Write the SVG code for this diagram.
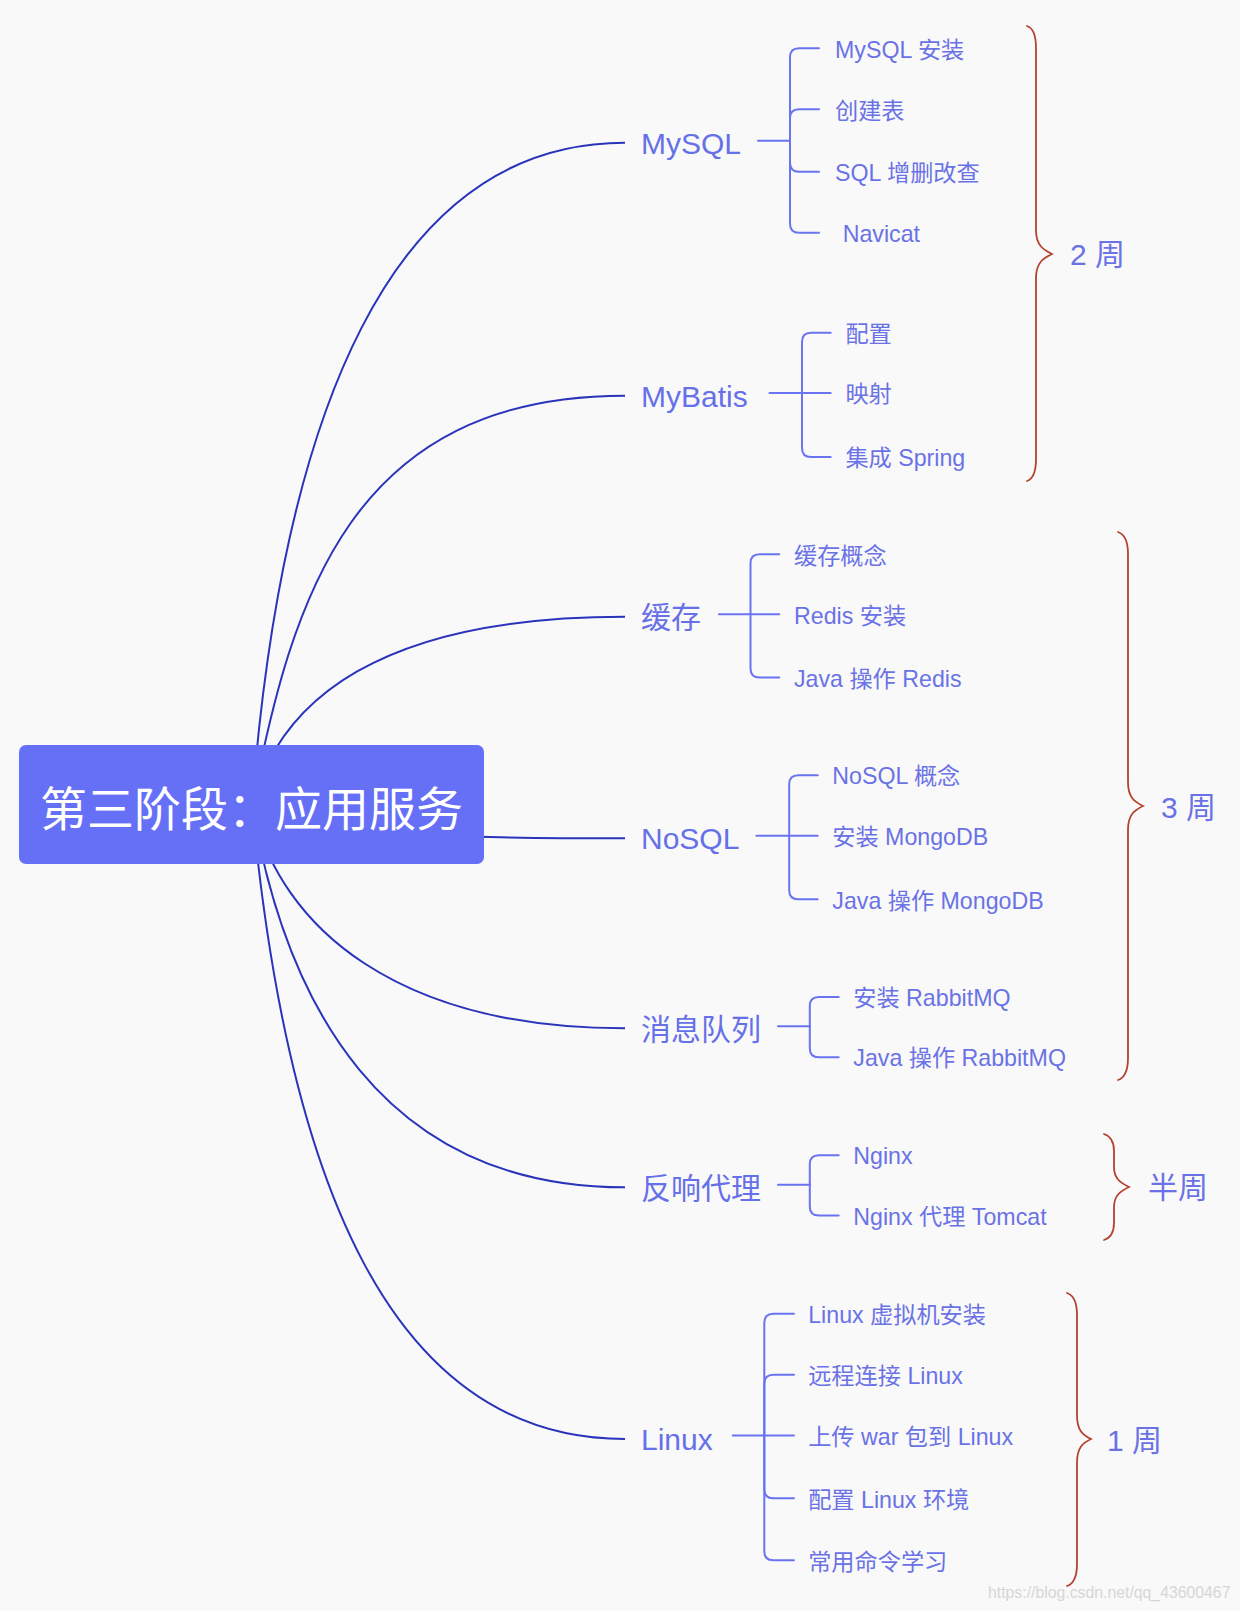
<svg xmlns="http://www.w3.org/2000/svg" width="1240" height="1611" viewBox="0 0 1240 1611">
<style>
.bg{fill:#f9f9f9}
.main{fill:none;stroke:#2a34ba;stroke-width:2}
.br{fill:none;stroke:#6a73f0;stroke-width:2;stroke-linecap:round}
.brace{fill:none;stroke:#b3432f;stroke-width:1.8;stroke-linecap:round}
text{font-family:"Liberation Sans","Noto Sans CJK SC",sans-serif}
.l1{font-size:30px;fill:#6670e8}
.l2{font-size:23.2px;fill:#6a72e6}
.wk{font-size:30px;fill:#6a72e6}
.root{font-size:47px;fill:#ffffff;font-family:"Noto Sans CJK SC",sans-serif}
.wm{font-size:15.8px;fill:#d6d6d6}
</style>
<rect class="bg" x="0" y="0" width="1240" height="1611"/>

<g id="connectors">
  <path class="main" d="M252,805 C282,415 390,142.7 625,142.7"/>
  <path class="main" d="M252,805 C292,600 350,395.7 625,395.7"/>
  <path class="main" d="M252,805 C280,700 380,616.7 625,616.7"/>
  <path class="main" d="M252,805 C300,834 420,838.3 625,838.3"/>
  <path class="main" d="M252,805 C280,930 400,1028.3 625,1028.3"/>
  <path class="main" d="M252,805 C285,1000 380,1187.3 625,1187.3"/>
  <path class="main" d="M252,805 C287,1180 390,1439 625,1439"/>

  <path class="br" d="M758,140.7 H790"/>
  <path class="br" d="M790,140.7 V57.3 Q790,48.3 799,48.3 H819"/>
  <path class="br" d="M790,140.7 V118.3 Q790,109.3 799,109.3 H819"/>
  <path class="br" d="M790,140.7 V162.7 Q790,171.7 799,171.7 H819"/>
  <path class="br" d="M790,140.7 V223.7 Q790,232.7 799,232.7 H819"/>

  <path class="br" d="M769.5,393 H830.7"/>
  <path class="br" d="M802,393 V341.7 Q802,332.7 811,332.7 H830.7"/>
  <path class="br" d="M802,393 V447.9 Q802,456.9 811,456.9 H830.7"/>

  <path class="br" d="M719,614.3 H779.3"/>
  <path class="br" d="M750.5,614.3 V563.3 Q750.5,554.3 759.5,554.3 H779.3"/>
  <path class="br" d="M750.5,614.3 V668.5 Q750.5,677.5 759.5,677.5 H779.3"/>

  <path class="br" d="M756.4,835.8 H817.7"/>
  <path class="br" d="M789.2,835.8 V784.2 Q789.2,775.2 798.2,775.2 H817.7"/>
  <path class="br" d="M789.2,835.8 V890.3 Q789.2,899.3 798.2,899.3 H817.7"/>

  <path class="br" d="M778,1026.2 H809.8"/>
  <path class="br" d="M809.8,1026.2 V1005.9 Q809.8,996.9 818.8,996.9 H838.7"/>
  <path class="br" d="M809.8,1026.2 V1048.2 Q809.8,1057.2 818.8,1057.2 H838.7"/>

  <path class="br" d="M778,1184.8 H809.8"/>
  <path class="br" d="M809.8,1184.8 V1164.2 Q809.8,1155.2 818.8,1155.2 H838.7"/>
  <path class="br" d="M809.8,1184.8 V1206.5 Q809.8,1215.5 818.8,1215.5 H838.7"/>

  <path class="br" d="M732.7,1435.6 H794"/>
  <path class="br" d="M764.3,1435.6 V1322.7 Q764.3,1313.7 773.3,1313.7 H794"/>
  <path class="br" d="M764.3,1435.6 V1383.7 Q764.3,1374.7 773.3,1374.7 H794"/>
  <path class="br" d="M764.3,1435.6 V1489.3 Q764.3,1498.3 773.3,1498.3 H794"/>
  <path class="br" d="M764.3,1435.6 V1551.3 Q764.3,1560.3 773.3,1560.3 H794"/>

  <path class="brace" d="M1027,26 C1033,28 1036,34 1036,48 L1036,230 C1036,246 1044,250 1052,254 C1044,258 1036,262 1036,278 L1036,459 C1036,473 1033,479 1027,481"/>
  <path class="brace" d="M1118,532 C1124,534 1128,540 1128,554 L1128,782 C1128,798 1135,802 1143,806 C1135,810 1128,814 1128,830 L1128,1058 C1128,1072 1124,1078 1118,1080"/>
  <path class="brace" d="M1104,1134 C1110,1136 1114,1141 1114,1151 L1114,1167 C1114,1179 1121,1183 1129,1187 C1121,1191 1114,1195 1114,1207 L1114,1223 C1114,1233 1110,1238 1104,1240"/>
  <path class="brace" d="M1067,1293 C1073,1295 1077,1301 1077,1315 L1077,1415 C1077,1431 1083,1435 1091,1439 C1083,1443 1077,1447 1077,1463 L1077,1564 C1077,1578 1073,1584 1067,1586"/>
</g>

<g id="root">
  <rect x="19" y="745" width="465" height="119" rx="7" ry="7" fill="#6670f6"/>
  <text class="root" x="251.5" y="825.5" text-anchor="middle">第三阶段：应用服务</text>
</g>

<g id="n-mysql"><text class="l1" x="641" y="153.7">MySQL</text></g>
<g id="n-mysql-1"><text class="l2" x="835" y="57.5">MySQL 安装</text></g>
<g id="n-mysql-2"><text class="l2" x="835" y="118.5">创建表</text></g>
<g id="n-mysql-3"><text class="l2" x="835" y="180.9">SQL 增删改查</text></g>
<g id="n-mysql-4"><text class="l2" x="842.7" y="242.2">Navicat</text></g>

<g id="n-mybatis"><text class="l1" x="641" y="406.7">MyBatis</text></g>
<g id="n-mybatis-1"><text class="l2" x="845.4" y="341.9">配置</text></g>
<g id="n-mybatis-2"><text class="l2" x="845.4" y="402.2">映射</text></g>
<g id="n-mybatis-3"><text class="l2" x="845.4" y="466.1">集成 Spring</text></g>

<g id="n-cache"><text class="l1" x="641" y="628">缓存</text></g>
<g id="n-cache-1"><text class="l2" x="794" y="563.5">缓存概念</text></g>
<g id="n-cache-2"><text class="l2" x="794" y="623.5">Redis 安装</text></g>
<g id="n-cache-3"><text class="l2" x="794" y="686.7">Java 操作 Redis</text></g>

<g id="n-nosql"><text class="l1" x="641" y="849">NoSQL</text></g>
<g id="n-nosql-1"><text class="l2" x="832.3" y="784.4">NoSQL 概念</text></g>
<g id="n-nosql-2"><text class="l2" x="832.3" y="845">安装 MongoDB</text></g>
<g id="n-nosql-3"><text class="l2" x="832.3" y="908.5">Java 操作 MongoDB</text></g>

<g id="n-mq"><text class="l1" x="641" y="1039.5">消息队列</text></g>
<g id="n-mq-1"><text class="l2" x="853.3" y="1006.1">安装 RabbitMQ</text></g>
<g id="n-mq-2"><text class="l2" x="853.3" y="1066.4">Java 操作 RabbitMQ</text></g>

<g id="n-proxy"><text class="l1" x="641" y="1198.5">反响代理</text></g>
<g id="n-proxy-1"><text class="l2" x="853.3" y="1164.4">Nginx</text></g>
<g id="n-proxy-2"><text class="l2" x="853.3" y="1224.7">Nginx 代理 Tomcat</text></g>

<g id="n-linux"><text class="l1" x="641" y="1450">Linux</text></g>
<g id="n-linux-1"><text class="l2" x="808.2" y="1322.9">Linux 虚拟机安装</text></g>
<g id="n-linux-2"><text class="l2" x="808.2" y="1383.9">远程连接 Linux</text></g>
<g id="n-linux-3"><text class="l2" x="808.2" y="1444.8">上传 war 包到 Linux</text></g>
<g id="n-linux-4"><text class="l2" x="808.2" y="1507.5">配置 Linux 环境</text></g>
<g id="n-linux-5"><text class="l2" x="808.2" y="1569.5">常用命令学习</text></g>

<g id="w-2"><text class="wk" x="1070" y="265">2 周</text></g>
<g id="w-3"><text class="wk" x="1161" y="818">3 周</text></g>
<g id="w-half"><text class="wk" x="1148" y="1198">半周</text></g>
<g id="w-1"><text class="wk" x="1107" y="1451">1 周</text></g>

<text class="wm" x="988" y="1598">https://blog.csdn.net/qq_43600467</text>
</svg>
